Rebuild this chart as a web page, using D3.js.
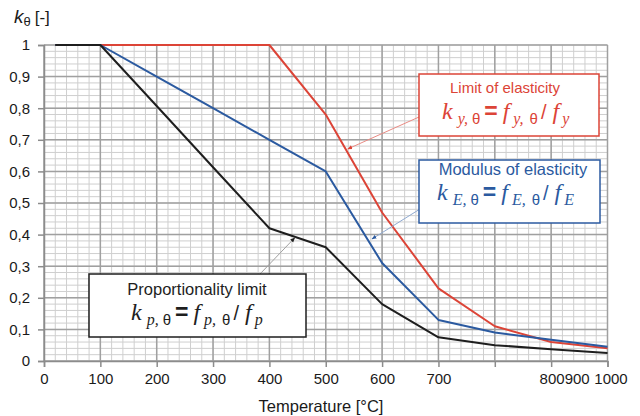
<!DOCTYPE html>
<html>
<head>
<meta charset="utf-8">
<script src="https://cdn.jsdelivr.net/npm/d3@7"></script>
<style>
  body { margin: 0; background: #fff; }
  svg { display: block; font-family: "Liberation Sans", Arial, sans-serif; }
</style>
</head>
<body>
<svg id="chart" width="640" height="416"></svg>
<script>
// reduction factors of steel vs temperature
const temps = [20, 100, 200, 300, 400, 500, 600, 700, 800, 900, 1000];
const kyTheta = [1, 1, 1, 1, 1, 0.78, 0.47, 0.23, 0.11, 0.06, 0.04];
const kETheta = [1, 1, 0.9, 0.8, 0.7, 0.6, 0.31, 0.13, 0.09, 0.0675, 0.045];
const kpTheta = [1, 1, 0.807, 0.613, 0.42, 0.36, 0.18, 0.075, 0.05, 0.0375, 0.025];

const xTicks = [0, 100, 200, 300, 400, 500, 600, 700, 800, 900, 1000];
const xTickLabels = ["0", "100", "200", "300", "400", "500", "600", "700", "", "800900", "1000"];
const yTicks = [0, 0.1, 0.2, 0.3, 0.4, 0.5, 0.6, 0.7, 0.8, 0.9, 1];
const yTickLabels = ["0", "0,1", "0,2", "0,3", "0,4", "0,5", "0,6", "0,7", "0,8", "0,9", "1"];

const red = "#dc4437", blue = "#2b5aa0", black = "#1e1e1e";

const svg = d3.select("#chart");
const x = d3.scaleLinear().domain([0, 1000]).range([44, 607.5]);
const y = d3.scaleLinear().domain([0, 1]).range([361, 45]);

// minor grid
const grid = svg.append("g");
grid.selectAll(".vminor").data(d3.range(0, 1001, 20)).join("line")
    .attr("x1", d => x(d)).attr("x2", d => x(d))
    .attr("y1", y(0)).attr("y2", y(1))
    .attr("stroke", "#cfcfcf").attr("stroke-width", 1);
grid.selectAll(".hminor").data(d3.range(0, 51).map(i => i / 50)).join("line")
    .attr("x1", x(0)).attr("x2", x(1000))
    .attr("y1", d => y(d)).attr("y2", d => y(d))
    .attr("stroke", "#cfcfcf").attr("stroke-width", 1);

// major grid
grid.selectAll(".vmajor").data(xTicks).join("line")
    .attr("x1", d => x(d)).attr("x2", d => x(d))
    .attr("y1", y(0)).attr("y2", y(1))
    .attr("stroke", "#a0a0a0").attr("stroke-width", 1.5);
grid.selectAll(".hmajor").data(yTicks).join("line")
    .attr("x1", x(0)).attr("x2", x(1000))
    .attr("y1", d => y(d)).attr("y2", d => y(d))
    .attr("stroke", "#a0a0a0").attr("stroke-width", 1.5);

// axes
const xAxis = svg.append("g")
    .attr("transform", `translate(0,${y(0)})`)
    .call(d3.axisBottom(x).tickValues(xTicks).tickSize(6).tickPadding(6)
        .tickFormat((d, i) => xTickLabels[i]));
xAxis.selectAll("text")
    .attr("dx", (d, i) => xTickLabels[i] === "800900" ? 13 : (d === 1000 ? 3 : 0));

const yAxis = svg.append("g")
    .attr("transform", `translate(${x(0)},0)`)
    .call(d3.axisLeft(y).tickValues(yTicks).tickSize(6).tickPadding(8)
        .tickFormat((d, i) => yTickLabels[i]));

[xAxis, yAxis].forEach(a => {
    a.select(".domain").attr("stroke", "#8c8c8c").attr("stroke-width", 1.5);
    a.selectAll(".tick line").attr("stroke", "#8c8c8c").attr("stroke-width", 1.5);
    a.selectAll("text").attr("fill", "#1a1a1a")
        .style("font-family", "Liberation Sans, Arial, sans-serif").style("font-size", "15px");
});

// series
const line = d3.line().x(d => x(d[0])).y(d => y(d[1]));
[[kyTheta, red], [kETheta, blue], [kpTheta, black]].forEach(([vals, col]) => {
    svg.append("path")
        .datum(temps.map((t, i) => [t, vals[i]]))
        .attr("d", line)
        .attr("fill", "none")
        .attr("stroke", col)
        .attr("stroke-width", 2)
        .attr("stroke-linejoin", "round");
});

// axis titles
const yTitle = svg.append("text").attr("x", 14).attr("y", 23).attr("fill", "#1a1a1a");
yTitle.append("tspan").text("k").style("font-style", "italic").style("font-size", "19px");
yTitle.append("tspan").text("θ").attr("dy", 3).style("font-size", "13px");
yTitle.append("tspan").text("[-]").attr("dx", 4).attr("dy", -3).style("font-size", "17px");

svg.append("text")
    .attr("x", 321).attr("y", 412)
    .attr("text-anchor", "middle")
    .attr("fill", "#1a1a1a")
    .style("font-size", "16.5px")
    .text("Temperature [°C]");

// annotation arrows
const defs = svg.append("defs");
function marker(id, col) {
    defs.append("marker").attr("id", id)
        .attr("viewBox", "0 0 10 10").attr("refX", 9).attr("refY", 5)
        .attr("markerWidth", 5).attr("markerHeight", 5).attr("orient", "auto")
        .append("path").attr("d", "M0,1L10,5L0,9z").attr("fill", col);
}
marker("mr", red); marker("mb", blue); marker("mk", black);

function arrow(x1, y1, t, v, light, id) {
    svg.append("line")
        .attr("x1", x1).attr("y1", y1)
        .attr("x2", x(t)).attr("y2", y(v))
        .attr("stroke", light).attr("stroke-width", 1)
        .attr("marker-end", `url(#${id})`);
}
arrow(419, 117, 539, 0.671, "#e98b84", "mr");
arrow(420, 209, 582, 0.386, "#8fa9d0", "mb");
arrow(260, 274, 445, 0.390, "#a0a0a0", "mk");

// labelled boxes
function box(x0, y0, w, h, col, title, titleSize, sub, tx, ty, fx, fy) {
    svg.append("rect").attr("x", x0).attr("y", y0).attr("width", w).attr("height", h)
        .attr("fill", "#fff").attr("stroke", col).attr("stroke-width", 1.5);
    svg.append("text").attr("x", tx).attr("y", ty).attr("text-anchor", "middle")
        .attr("fill", col).style("font-size", titleSize + "px").text(title);

    const f = svg.append("text").attr("x", fx).attr("y", fy).attr("fill", col);
    const serif = "Liberation Serif, Times New Roman, serif";
    const big = s => f.append("tspan").text(s).style("font-family", serif)
        .style("font-style", "italic").style("font-size", "24px");
    const small = (s, dy) => f.append("tspan").text(s).attr("dy", dy).style("font-family", serif)
        .style("font-style", "italic").style("font-size", "16px");
    const th = () => f.append("tspan").text("θ").style("font-size", "15px");
    big("k");
    small(sub + ",", 5).attr("dx", 5);
    th().attr("dx", 4);
    f.append("tspan").text("=").attr("dy", -5).attr("dx", 4).style("font-size", "23px").style("font-weight", "bold");
    big("f").attr("dx", 5);
    small(sub + ",", 5).attr("dx", 4);
    th().attr("dx", 6);
    f.append("tspan").text("/").attr("dy", -5).attr("dx", 3).style("font-size", "20px");
    big("f").attr("dx", 6);
    small(sub, 5).attr("dx", 3);
}

box(419, 74, 180, 62, red, "Limit of elasticity", 15, "y", 505, 93, 442, 119);
box(419, 160, 181, 63, blue, "Modulus of elasticity", 16.5, "E", 513, 175, 437, 200);
box(89, 274, 217, 63, black, "Proportionality limit", 16.5, "p", 197, 295, 131, 320);
</script>
</body>
</html>
